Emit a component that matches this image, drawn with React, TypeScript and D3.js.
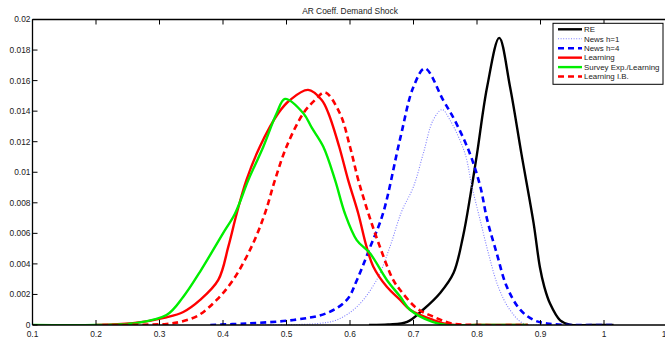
import * as d3 from "d3";

// Posterior densities of the AR coefficient of the demand shock
const RE_X = [0.63, 0.66, 0.69, 0.715, 0.742, 0.763, 0.778, 0.79, 0.8, 0.816, 0.835, 0.852, 0.87, 0.889, 0.899, 0.906, 0.915, 0.931, 0.946, 0.98, 1.015];
const RE_Y = [0, 0.00003, 0.0002, 0.001, 0.0021, 0.0034, 0.0058, 0.0086, 0.0112, 0.0156, 0.0188, 0.0156, 0.0112, 0.0067, 0.0038, 0.0025, 0.0014, 0.0003, 0.00002, 0, 0];

const H1_X = [0.45, 0.5, 0.55, 0.579, 0.611, 0.642, 0.663, 0.681, 0.7, 0.7155, 0.731, 0.745, 0.7575, 0.781, 0.792, 0.805, 0.818, 0.8335, 0.852, 0.873, 0.9, 0.93];
const H1_Y = [0, 0.00002, 0.0001, 0.00033, 0.0012, 0.00295, 0.00513, 0.0074, 0.00906, 0.01124, 0.01342, 0.0141, 0.01342, 0.01124, 0.00906, 0.00687, 0.00469, 0.0025, 0.00098, 0.0001, 0, 0];

const H4_X = [0.38, 0.437, 0.511, 0.563, 0.595, 0.611, 0.632, 0.652, 0.679, 0.7, 0.718, 0.747, 0.765, 0.789, 0.805, 0.816, 0.831, 0.847, 0.868, 0.889, 0.91, 0.95, 1.015];
const H4_Y = [0, 0.0001, 0.00033, 0.00077, 0.00164, 0.00295, 0.00513, 0.0073, 0.0122, 0.0156, 0.0168, 0.0147, 0.0134, 0.0112, 0.0091, 0.0069, 0.0047, 0.0025, 0.001, 0.00033, 0.0001, 0, 0];

const L_X = [0.2, 0.258, 0.311, 0.3375, 0.364, 0.3926, 0.4084, 0.4216, 0.437, 0.458, 0.487, 0.5055, 0.534, 0.5554, 0.566, 0.583, 0.597, 0.613, 0.626, 0.637, 0.658, 0.679, 0.6945, 0.731, 0.757, 0.8, 0.88];
const L_Y = [0, 0.00012, 0.0005, 0.00085, 0.00164, 0.00295, 0.00513, 0.0073, 0.0095, 0.01167, 0.01386, 0.01473, 0.01539, 0.01473, 0.01386, 0.01167, 0.0095, 0.0073, 0.00513, 0.0038, 0.0025, 0.00164, 0.001, 0.00033, 0.00003, 0, 0];

const S_X = [0.1, 0.2, 0.258, 0.311, 0.3375, 0.364, 0.4, 0.419, 0.44, 0.4635, 0.4845, 0.4976, 0.5265, 0.54, 0.558, 0.5764, 0.592, 0.6106, 0.6315, 0.658, 0.679, 0.6945, 0.73, 0.752, 0.8, 0.88];
const S_Y = [0, 0, 0.0001, 0.00065, 0.00185, 0.0035, 0.006, 0.0073, 0.0095, 0.01167, 0.01386, 0.0148, 0.01386, 0.0129, 0.01167, 0.0095, 0.0073, 0.00556, 0.00469, 0.00295, 0.00186, 0.001, 0.0002, 0.00001, 0, 0];

const B_X = [0.21, 0.311, 0.332, 0.36, 0.39, 0.416, 0.445, 0.466, 0.4819, 0.5, 0.5265, 0.545, 0.5606, 0.584, 0.6, 0.613, 0.629, 0.647, 0.668, 0.679, 0.705, 0.731, 0.76, 0.8, 0.88];
const B_Y = [0, 0.00007, 0.0002, 0.0006, 0.00164, 0.00295, 0.00513, 0.0073, 0.0095, 0.01167, 0.01386, 0.01473, 0.01523, 0.01386, 0.01167, 0.0095, 0.0073, 0.00513, 0.00295, 0.00229, 0.0011, 0.00055, 0.0001, 0, 0];

const X_TICKS = [0.1, 0.2, 0.3, 0.4, 0.5, 0.6, 0.7, 0.8, 0.9, 1, 1.1];
const Y_TICKS = [0, 0.002, 0.004, 0.006, 0.008, 0.01, 0.012, 0.014, 0.016, 0.018, 0.02];

const SERIES = [
  { label: "RE", xs: RE_X, ys: RE_Y, color: "#000000", width: 2.4, dash: "" },
  { label: "News h=1", xs: H1_X, ys: H1_Y, color: "#7f7fff", width: 1.1, dash: "1,1.6" },
  { label: "News h=4", xs: H4_X, ys: H4_Y, color: "#0000ff", width: 2.6, dash: "6,4" },
  { label: "Learning", xs: L_X, ys: L_Y, color: "#ff0000", width: 2.4, dash: "" },
  { label: "Survey Exp./Learning", xs: S_X, ys: S_Y, color: "#00ee00", width: 2.4, dash: "" },
  { label: "Learning I.B.", xs: B_X, ys: B_Y, color: "#ff0000", width: 2.6, dash: "6,4" },
];

const W = 665;
const H = 343;
const FONT = "'Liberation Sans', Arial, Helvetica, sans-serif";

export default function App() {
  const x = d3.scaleLinear().domain([0.1, 1.1]).range([32.5, 667.5]);
  const y = d3.scaleLinear().domain([0, 0.02]).range([325, 19.5]);
  const [x0, x1] = x.range();
  const [y0, y1] = y.range();

  const line = d3.line<[number, number]>()
    .x((d) => x(d[0]))
    .y((d) => y(d[1]))
    .curve(d3.curveCatmullRom.alpha(0.5));

  const tickLen = 5;

  return (
    <svg width={W} height={H} style={{ position: "absolute", left: 0, top: 0, background: "#fff" }}>
      <defs>
        <clipPath id="plot">
          <rect x={x0} y={y1} width={x1 - x0} height={y0 - y1} />
        </clipPath>
      </defs>

      {/* title */}
      <text x={350} y={13.5} textAnchor="middle" fontSize={8.4} fontFamily={FONT} fill="#222">
        AR Coeff. Demand Shock
      </text>

      {/* curves */}
      <g clipPath="url(#plot)">
        {SERIES.map((s) => (
          <path key={s.label}
            d={line(s.xs.map((v, i) => [v, s.ys[i]] as [number, number])) ?? ""}
            fill="none" stroke={s.color} strokeWidth={s.width}
            strokeDasharray={s.dash || undefined}
            strokeLinejoin="round"
          />
        ))}
      </g>

      {/* axes frame */}
      <line x1={x0} x2={x0} y1={y1} y2={y0} stroke="#000" strokeWidth={1.3} />
      <line x1={x0} x2={x1} y1={y0} y2={y0} stroke="#000" strokeWidth={1.3} />
      <line x1={x0} x2={x1} y1={y1} y2={y1} stroke="#000" strokeWidth={1.3} />

      {/* x ticks */}
      {X_TICKS.map((t) => (
        <g key={`x${t}`}>
          <line x1={x(t)} x2={x(t)} y1={y0} y2={y0 - tickLen} stroke="#000" strokeWidth={1} />
          <line x1={x(t)} x2={x(t)} y1={y1} y2={y1 + tickLen} stroke="#000" strokeWidth={1} />
          <text x={x(t)} y={336.5} textAnchor="middle" fontSize={8.4} fontFamily={FONT} fill="#222">
            {d3.format("~g")(t)}
          </text>
        </g>
      ))}

      {/* y ticks */}
      {Y_TICKS.map((t) => (
        <g key={`y${t}`}>
          <line x1={x0} x2={x0 + tickLen} y1={y(t)} y2={y(t)} stroke="#000" strokeWidth={1} />
          <text x={30.5} y={y(t)} dy="0.35em" textAnchor="end" fontSize={8.4} fontFamily={FONT} fill="#222">
            {d3.format("~g")(t)}
          </text>
        </g>
      ))}

      {/* legend */}
      <g>
        <rect x={553} y={23.3} width={110} height={61} fill="#fff" stroke="#000" strokeWidth={1} />
        {SERIES.map((s, i) => {
          const ly = 29.3 + i * 9.45;
          return (
            <g key={`lg${s.label}`}>
              <line x1={558} x2={582} y1={ly} y2={ly} stroke={s.color} strokeWidth={s.width}
                strokeDasharray={s.dash || undefined} />
              <text x={584} y={ly} dy="0.35em" fontSize={7.9} fontFamily={FONT} fill="#222">
                {s.label}
              </text>
            </g>
          );
        })}
      </g>
    </svg>
  );
}
